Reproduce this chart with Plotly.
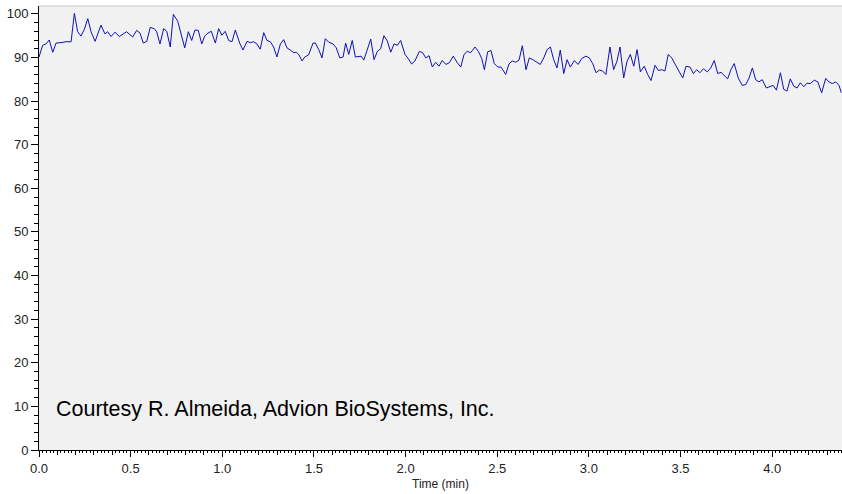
import plotly.graph_objects as go

time_min = [
    0.000, 0.020, 0.038, 0.056, 0.075, 0.093, 0.120, 0.147, 0.175, 0.193,
    0.211, 0.229, 0.247, 0.266, 0.284, 0.306, 0.338, 0.360, 0.375, 0.393,
    0.415, 0.438, 0.478, 0.511, 0.533, 0.551, 0.569, 0.588, 0.607, 0.629,
    0.642, 0.660, 0.680, 0.697, 0.716, 0.733, 0.757, 0.795, 0.815, 0.833,
    0.851, 0.869, 0.888,
    0.904, 0.922, 0.940, 0.962, 0.980, 0.998, 1.016, 1.035, 1.053, 1.071,
    1.095, 1.113, 1.135, 1.153, 1.171, 1.189, 1.207, 1.226, 1.244, 1.262,
    1.280, 1.298, 1.317, 1.335, 1.353, 1.371, 1.390, 1.404, 1.417, 1.435,
    1.450, 1.471, 1.495, 1.508, 1.526, 1.544, 1.562, 1.581, 1.604, 1.622,
    1.641, 1.659, 1.673, 1.690, 1.709, 1.726, 1.744, 1.758, 1.772,
    1.791, 1.810, 1.828, 1.846, 1.864, 1.882, 1.900, 1.919, 1.937, 1.955,
    1.973, 1.997, 2.015, 2.033, 2.051, 2.075, 2.093, 2.110, 2.128, 2.146,
    2.164, 2.182, 2.200, 2.220, 2.239, 2.260, 2.282, 2.301, 2.319, 2.337,
    2.355, 2.379, 2.397, 2.415, 2.430, 2.448, 2.466, 2.484, 2.503, 2.521,
    2.546, 2.564, 2.582, 2.601, 2.619, 2.637,
    2.657, 2.675, 2.694, 2.712, 2.735, 2.754, 2.772, 2.790, 2.808, 2.826,
    2.844, 2.863, 2.881, 2.899, 2.921, 2.941, 2.962, 2.984, 3.002, 3.021,
    3.039, 3.057, 3.075, 3.093, 3.115, 3.135, 3.153, 3.170, 3.190, 3.208,
    3.226, 3.245, 3.263, 3.281, 3.302, 3.321, 3.339, 3.361, 3.379, 3.397,
    3.415, 3.433, 3.452, 3.475, 3.493, 3.512, 3.530,
    3.552, 3.570, 3.588, 3.606, 3.625, 3.646, 3.665, 3.684, 3.703, 3.721,
    3.739, 3.757, 3.775, 3.793, 3.815, 3.837, 3.856, 3.874, 3.892, 3.910,
    3.928, 3.946, 3.968, 3.987, 4.005, 4.023, 4.045, 4.063, 4.081, 4.099,
    4.118, 4.136, 4.154, 4.172, 4.190, 4.208, 4.230, 4.249, 4.270, 4.292,
    4.310, 4.328, 4.346, 4.365, 4.377,
]

intensity = [
    90.1, 92.8, 93.1, 94.0, 91.2, 93.3, 93.4, 93.6, 93.6, 100.1,
    95.9, 94.9, 96.4, 98.9, 95.9, 93.7, 97.4, 95.4, 95.9, 94.8,
    95.8, 94.8, 95.9, 94.7, 96.2, 95.6, 93.3, 93.7, 96.9, 96.6,
    95.9, 93.1, 96.6, 96.0, 92.4, 99.9, 98.3, 92.2, 95.9, 93.9,
    96.3, 96.2, 93.1,
    94.9, 95.6, 96.0, 93.3, 96.6, 95.1, 96.0, 93.9, 93.6, 96.3,
    93.3, 91.7, 93.7, 93.4, 93.6, 93.1, 91.9, 95.7, 93.9, 93.6,
    92.4, 90.1, 93.1, 94.1, 92.2, 91.7, 91.1, 91.2, 90.7, 89.2,
    90.1, 90.6, 93.3, 93.3, 91.8, 89.9, 94.3, 93.5, 93.1, 92.2,
    89.9, 90.1, 93.3, 90.7, 93.9, 90.1, 90.2, 90.3, 89.4,
    91.8, 94.2, 89.5, 91.4, 92.0, 95.0, 93.8, 91.2, 93.1, 92.8,
    93.9, 90.7, 89.7, 88.5, 89.2, 91.4, 91.1, 89.9, 90.4, 87.8,
    88.9, 88.0, 89.3, 88.4, 88.8, 90.3, 88.8, 87.8, 90.7, 91.4,
    91.1, 92.4, 91.4, 89.8, 87.2, 91.3, 91.6, 88.6, 87.8, 87.8,
    86.1, 88.5, 89.2, 88.9, 89.4, 92.7,
    87.2, 89.9, 89.5, 89.1, 88.4, 89.9, 91.8, 92.4, 89.5, 87.6,
    91.7, 86.3, 89.5, 87.8, 89.3, 88.4, 89.8, 90.3, 89.9, 88.6,
    86.5, 87.1, 86.9, 86.1, 92.4, 87.2, 89.1, 92.4, 85.3, 89.1,
    90.7, 88.0, 91.8, 86.7, 88.0, 86.1, 84.7, 88.2, 87.0, 87.2,
    86.9, 90.7, 89.9, 88.1, 86.7, 85.3, 88.0,
    87.8, 86.3, 87.2, 86.5, 87.4, 86.7, 87.6, 89.3, 86.3, 86.6,
    85.9, 85.1, 87.2, 88.6, 85.3, 83.6, 83.8, 85.3, 87.6, 84.9,
    84.4, 84.9, 83.0, 83.3, 83.6, 82.5, 86.5, 82.7, 82.3, 85.1,
    83.4, 83.0, 84.2, 83.3, 84.1, 84.0, 84.8, 84.4, 81.9, 85.2,
    84.4, 84.0, 84.4, 83.6, 81.9,
]

x_range = [0.0, 4.381]
y_range = [0.0, 101.8]
x_axis_title = "Time (min)"
courtesy_text = "Courtesy R. Almeida, Advion BioSystems, Inc."

fig = go.Figure()
fig.add_trace(go.Scatter(
    x=time_min, y=intensity, mode="lines",
    line=dict(color="#1010b8", width=1),
    hoverinfo="skip", showlegend=False,
))
# invisible trace to carry the medium tick axis
fig.add_trace(go.Scatter(
    x=[x_range[0]], y=[y_range[0]], xaxis="x2", mode="markers",
    marker=dict(opacity=0), hoverinfo="skip", showlegend=False,
))

font_family = "Liberation Sans, Arial, sans-serif"

fig.update_layout(
    width=842, height=494,
    margin=dict(l=39, r=0, t=6, b=44),
    paper_bgcolor="white",
    plot_bgcolor="#f1f1f1",
    font=dict(family=font_family, size=12, color="#222222"),
    xaxis=dict(
        range=x_range, showgrid=False, zeroline=False,
        showline=True, linecolor="black", linewidth=1,
        ticks="outside", ticklen=6, tickcolor="black", tickwidth=1,
        tick0=0, dtick=0.5, tickformat=".1f",
        tickfont=dict(size=13, color="#222222"),
        minor=dict(ticks="outside", ticklen=2, tickcolor="black", dtick=0.02, tick0=0, showgrid=False),
        title=dict(text=x_axis_title, font=dict(size=12, color="#222222"), standoff=5),
        fixedrange=True,
    ),
    xaxis2=dict(
        overlaying="x", matches="x", side="bottom", anchor="y",
        showgrid=False, zeroline=False, showline=False,
        ticks="outside", ticklen=4, tickcolor="black", tickwidth=1,
        tick0=0, dtick=0.1, showticklabels=False,
    ),
    yaxis=dict(
        range=y_range, showgrid=False, zeroline=False,
        showline=True, linecolor="black", linewidth=1,
        ticks="outside", ticklen=7, tickcolor="black", tickwidth=1,
        tick0=0, dtick=10,
        tickfont=dict(size=13, color="#222222"),
        minor=dict(ticks="outside", ticklen=4, tickcolor="black", dtick=2, tick0=0, showgrid=False),
        fixedrange=True,
    ),
    shapes=[dict(
        type="line", xref="paper", yref="paper", x0=0, x1=1, y0=1, y1=1,
        line=dict(color="#c8c8c8", width=1),
    )],
    annotations=[dict(
        text=courtesy_text, xref="paper", yref="paper",
        x=0.019, y=0.092, xanchor="left", yanchor="middle",
        showarrow=False, font=dict(size=21.5, color="black", family=font_family),
    )],
)

fig.write_html("out.html")
